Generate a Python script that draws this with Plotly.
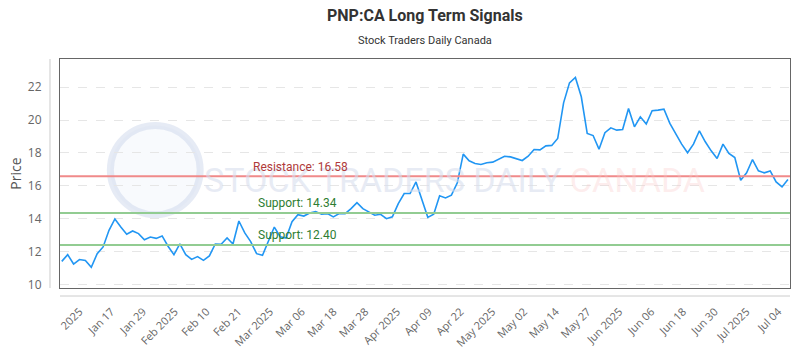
import numpy as np
import plotly.graph_objects as go

# ---- data ----
prices = [
    11.40, 11.81, 11.24, 11.51, 11.46, 11.04, 11.87, 12.28, 13.29, 13.98,
    13.49, 13.05, 13.25, 13.09, 12.72, 12.88, 12.80, 12.95, 12.32, 11.81,
    12.46, 11.81, 11.52, 11.69, 11.46, 11.73, 12.46, 12.44, 12.83, 12.46,
    13.86, 13.13,
    12.60, 11.87, 11.77, 12.64, 13.49, 12.90, 12.82, 13.82, 14.24, 14.16,
    14.35, 14.43, 14.27, 14.31, 14.11, 14.31, 14.31, 14.61, 14.98, 14.61,
    14.41, 14.21, 14.27, 14.00, 14.11, 14.92, 15.53, 15.53, 16.24, 15.12,
    14.08, 14.27, 15.39, 15.26, 15.43, 16.18, 17.93, 17.52, 17.36, 17.30,
    17.40, 17.44, 17.62, 17.80, 17.76, 17.64, 17.54, 17.80, 18.21, 18.19,
    18.43, 18.46, 18.88, 21.05, 22.27, 22.60, 21.42, 19.19, 19.06, 18.23,
    19.23, 19.53, 19.39, 19.43, 20.71, 19.59, 20.20, 19.76, 20.57, 20.61,
    20.67, 19.80, 19.13, 18.54, 18.01, 18.54, 19.35, 18.68, 18.13, 17.66,
    18.54, 17.97, 17.72, 16.34, 16.79, 17.60, 16.91, 16.79, 16.91, 16.24,
    15.93, 16.38,
]
x_index = list(range(len(prices)))

tick_labels = [
    "2025", "Jan 17", "Jan 29", "Feb 2025", "Feb 10", "Feb 21", "Mar 2025",
    "Mar 06", "Mar 18", "Mar 28", "Apr 2025", "Apr 09", "Apr 22", "May 2025",
    "May 02", "May 14", "May 27", "Jun 2025", "Jun 06", "Jun 18", "Jun 30",
    "Jul 2025", "Jul 04",
]
tick_first = 3.0
tick_step = 5.38
tick_pos = [tick_first + tick_step * k for k in range(len(tick_labels))]

resistance = 16.58
supports = [14.34, 12.40]

y_ticks = [10, 12, 14, 16, 18, 20, 22]

# ---- figure ----
fig = go.Figure()
fig.add_trace(go.Scatter(
    x=x_index, y=prices, mode="lines",
    line=dict(color="#2196F3", width=1.6),
    hoverinfo="y", showlegend=False,
))

shapes = []
annotations = []

# watermark logo
shapes.append(dict(type="circle", xref="paper", yref="paper",
                   x0=0.069, x1=0.192, y0=0.32, y1=0.71,
                   line=dict(color="rgba(200,210,232,0.45)", width=7),
                   fillcolor="rgba(235,240,250,0.35)", layer="below"))
annotations.append(dict(
    xref="paper", yref="paper", x=0.195, y=0.47, xanchor="left", yanchor="middle",
    text="STOCK TRADERS DAILY <span style='color:rgba(250,200,200,0.55)'>CANADA</span>",
    showarrow=False,
    font=dict(family="Roboto", size=34, color="rgba(215,222,238,0.6)"),
))

# resistance / support lines
shapes.append(dict(type="line", xref="paper", yref="y", x0=0, x1=1,
                   y0=resistance, y1=resistance,
                   line=dict(color="#F08A8A", width=2)))
annotations.append(dict(
    xref="paper", yref="y", x=0.33, y=resistance, xanchor="center",
    yanchor="bottom", yshift=0,
    text=f"Resistance: {resistance:.2f}", showarrow=False,
    font=dict(family="Roboto", size=12, color="#B03A3A")))
for s in supports:
    shapes.append(dict(type="line", xref="paper", yref="y", x0=0, x1=1,
                       y0=s, y1=s, line=dict(color="#92CC92", width=2)))
    annotations.append(dict(
        xref="paper", yref="y", x=0.326, y=s, xanchor="center",
        yanchor="bottom", yshift=1,
        text=f"Support: {s:.2f}", showarrow=False,
        font=dict(family="Roboto", size=12, color="#2E7D32")))

# outer light axis lines
shapes.append(dict(type="line", xref="paper", yref="paper", x0=-0.0137, x1=-0.0137,
                   y0=0, y1=1, line=dict(color="#CCCCCC", width=1)))
shapes.append(dict(type="line", xref="paper", yref="paper", x0=0, x1=1,
                   y0=-0.035, y1=-0.035, line=dict(color="#CCCCCC", width=1)))

# titles
annotations.append(dict(xref="paper", yref="paper", x=0.5, y=1, yshift=44,
                        yanchor="middle", showarrow=False,
                        text="<b>PNP:CA Long Term Signals</b>",
                        font=dict(family="Roboto", size=16, color="#333333")))
annotations.append(dict(xref="paper", yref="paper", x=0.5, y=1, yshift=19,
                        yanchor="middle", showarrow=False,
                        text="Stock Traders Daily Canada",
                        font=dict(family="Roboto", size=11, color="#333333")))

fig.update_layout(
    width=800, height=350,
    margin=dict(l=60, r=10, t=59, b=62),
    paper_bgcolor="white", plot_bgcolor="white",
    shapes=shapes, annotations=annotations,
    xaxis=dict(
        range=[-0.3, 123.35], automargin=False,
        tickmode="array", tickvals=tick_pos, ticktext=tick_labels,
        tickangle=-45, showgrid=False, zeroline=False,
        showline=True, mirror=True, linecolor="#666666", linewidth=1,
        ticks="", ticklabelstandoff=12,
        tickfont=dict(family="Open Sans", size=11, color="#666666"),
    ),
    yaxis=dict(
        range=[9.78, 23.72], automargin=False,
        tickmode="array", tickvals=y_ticks,
        showgrid=True, gridcolor="#E6E6E6", griddash="dash", gridwidth=1,
        zeroline=False,
        showline=True, mirror=True, linecolor="#666666", linewidth=1,
        ticks="", ticklabelstandoff=15,
        tickfont=dict(family="Open Sans", size=12, color="#666666"),
        title=dict(text="Price", standoff=2,
                   font=dict(family="Open Sans", size=14, color="#555555")),
    ),
)

fig.write_html("out.html")
